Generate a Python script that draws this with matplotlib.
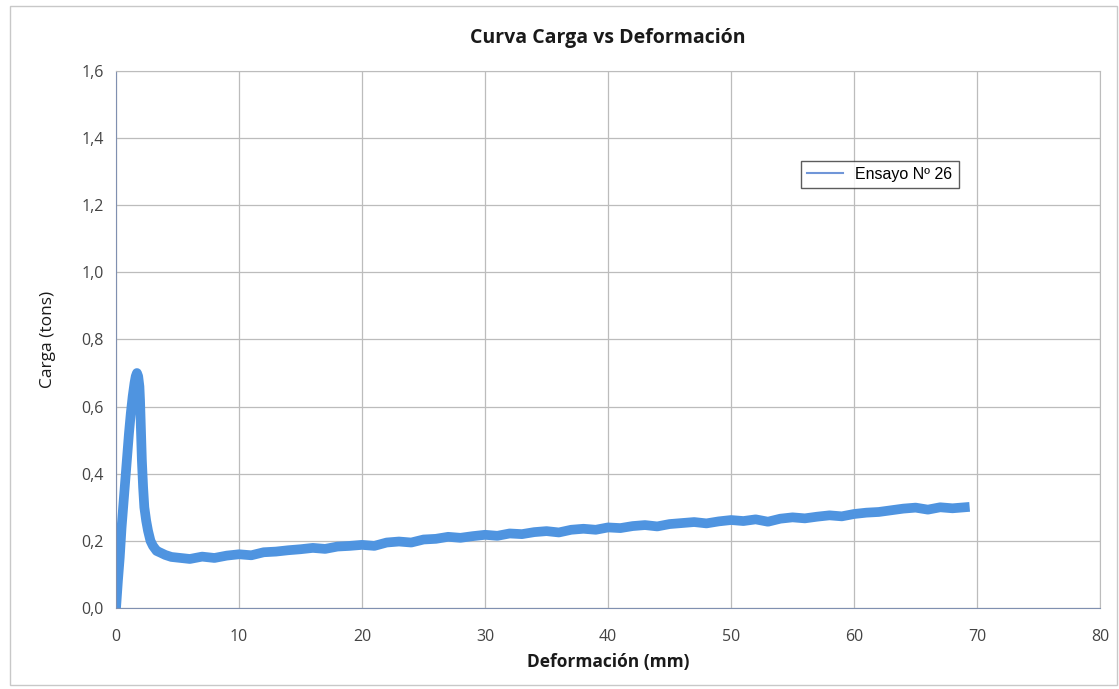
import matplotlib.pyplot as plt
from matplotlib.patches import Rectangle

# Data ======================================
# loading branch + peak + drop (mm, tons)
x_peak = [0.0, 0.15, 0.3, 0.45, 0.6, 0.75, 0.9, 1.05, 1.2, 1.35, 1.5, 1.6, 1.7, 1.8, 1.9,
          1.95, 2.0, 2.05, 2.1, 2.2, 2.3, 2.45, 2.6, 2.8, 3.0, 3.3, 3.6, 4.0, 4.5]
y_peak = [0.0, 0.08, 0.15, 0.24, 0.31, 0.38, 0.45, 0.52, 0.58, 0.63, 0.67, 0.69, 0.70, 0.69, 0.66,
          0.62, 0.56, 0.50, 0.44, 0.36, 0.30, 0.26, 0.23, 0.20, 0.185, 0.17, 0.165, 0.158, 0.152]

# plateau / hardening branch
x_body = list(range(5, 70))
y_body = [0.150, 0.146, 0.153, 0.149, 0.156, 0.160, 0.157, 0.166, 0.168, 0.172,
          0.175, 0.179, 0.176, 0.183, 0.185, 0.188, 0.185, 0.195, 0.198, 0.195,
          0.204, 0.206, 0.212, 0.209, 0.214, 0.218, 0.215, 0.222, 0.220, 0.226,
          0.229, 0.225, 0.233, 0.236, 0.233, 0.240, 0.238, 0.244, 0.247, 0.243,
          0.250, 0.253, 0.256, 0.252, 0.258, 0.262, 0.259, 0.264, 0.257, 0.266,
          0.270, 0.267, 0.272, 0.276, 0.273, 0.280, 0.284, 0.286, 0.291, 0.296,
          0.299, 0.293, 0.300, 0.297, 0.300]

xs = x_peak + x_body
ys = y_peak + y_body

x_ticks = [0, 10, 20, 30, 40, 50, 60, 70, 80]
y_ticks = [0.0, 0.2, 0.4, 0.6, 0.8, 1.0, 1.2, 1.4, 1.6]

plt.rcParams['font.family'] = ['Open Sans', 'DejaVu Sans']

fig = plt.figure(figsize=(11.19, 6.89), dpi=100)
ax = fig.add_axes([0.1037, 0.1176, 0.8794, 0.7794])

# thick line mimics the noisy band of the acquired signal
ax.plot(xs, ys, color='#4F94E0', lw=7, solid_joinstyle='round', label='Ensayo Nº 26')

ax.set_xlim(0, 80)
ax.set_ylim(0, 1.6)
ax.set_xticks(x_ticks)
ax.set_yticks(y_ticks)
ax.set_yticklabels([('%.1f' % v).replace('.', ',') for v in y_ticks])
ax.tick_params(length=0, labelsize=11.5, colors='#444444')
ax.tick_params(axis='x', pad=15)
ax.tick_params(axis='y', pad=9)
ax.grid(True, color='#bcbcbc', lw=0.9)
ax.set_axisbelow(True)
for s in ax.spines.values():
    s.set_color('#bcbcbc')
ax.spines['left'].set_color('#8090b0')
ax.spines['bottom'].set_color('#8090b0')

ax.set_title('Curva Carga vs Deformación', fontsize=14, fontweight='bold', pad=20, color='#1a1a1a')
ax.set_xlabel('Deformación (mm)', fontsize=12.5, fontweight='bold', color='#1a1a1a', labelpad=6)
ax.set_ylabel('Carga (tons)', fontsize=12.5, color='#1a1a1a', labelpad=18)

leg = ax.legend(loc='upper left', bbox_to_anchor=(0.688, 0.848), frameon=True,
                prop={'family': 'Liberation Sans', 'size': 11.5},
                fancybox=False, handlelength=2.2, borderpad=0.4)
leg.get_frame().set_edgecolor('#333333')
leg.get_frame().set_linewidth(1.0)
leg.get_lines()[0].set_linewidth(1.5)
leg.get_lines()[0].set_color('#7096d8')

# outer chart-area border
fig.patches.append(Rectangle((0.009, 0.006), 0.989, 0.986, transform=fig.transFigure,
                             fill=False, edgecolor='#c8c8c8', lw=1.0))

fig.savefig('out.png', dpi=100)
plt.close()
